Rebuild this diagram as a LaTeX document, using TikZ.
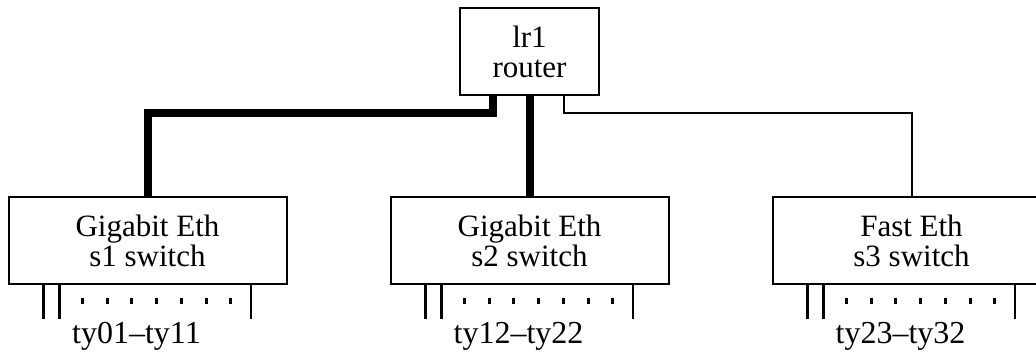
\documentclass[tikz,border=0pt]{standalone}
\usepackage{fontspec}
\setmainfont{Liberation Serif}
\usetikzlibrary{calc}
\tikzset{
  netbox/.style={draw, line width=1pt, minimum width=139pt, minimum height=43.5pt,
    inner sep=0pt, align=center, font=\fontsize{15.5pt}{15pt}\selectfont},
  routerbox/.style={netbox, minimum width=69.5pt},
  gige/.style={line width=4pt},
  fasteth/.style={line width=1pt},
  port/.style={line width=1.1pt},
  hostlabel/.style={font=\fontsize{16pt}{16pt}\selectfont}
}
\begin{document}
\begin{tikzpicture}[x=0.5pt, y=-0.5pt, node distance=191pt]
    \useasboundingbox (0,0) rectangle (1036,360);
    \clip (0,0) rectangle (1036,360);
    % switches and router
    \node (s1) [netbox] at (147.5,240.5) {Gigabit Eth\\s1 switch};
    \node (s2) [netbox, right of=s1] {Gigabit Eth\\s2 switch};
    \node (s3) [netbox, right of=s2] {Fast Eth\\s3 switch};
    \node (lr1) [routerbox, above of=s2, node distance=94.5pt] {lr1\\router};
    % uplinks
    \coordinate (lr1l) at ($(lr1.south)+(-37,0)$);
    \coordinate (lr1r) at ($(lr1.south)+(34,0)$);
    \draw[gige] (lr1l) -- ++(0,17) -| (s1.north);
    \draw[gige] (lr1.south) -- (s2.north);
    \draw[fasteth] (lr1r) -- ++(0,17) -| (s3.north);
    % ports and hosts
    \foreach \sw/\hosts in {s1/ty01--ty11, s2/ty12--ty22, s3/ty23--ty32} {
      \draw[port] ($(\sw.south west)+(36,0)$) -- ++(0,34);
      \draw[port] ($(\sw.south west)+(52,0)$) -- ++(0,34);
      \draw[port] ($(\sw.south west)+(243.5,0)$) -- ++(0,34);
      \foreach \k in {0,...,6}
        \fill ($(\sw.south west)+(73.5+\k*24.7,13)$) rectangle ++(3,6);
      \node (\sw-hosts) [hostlabel] at ($(\sw.south west)+(129,51)$) {\hosts};
    }
  \end{tikzpicture}
\end{document}
